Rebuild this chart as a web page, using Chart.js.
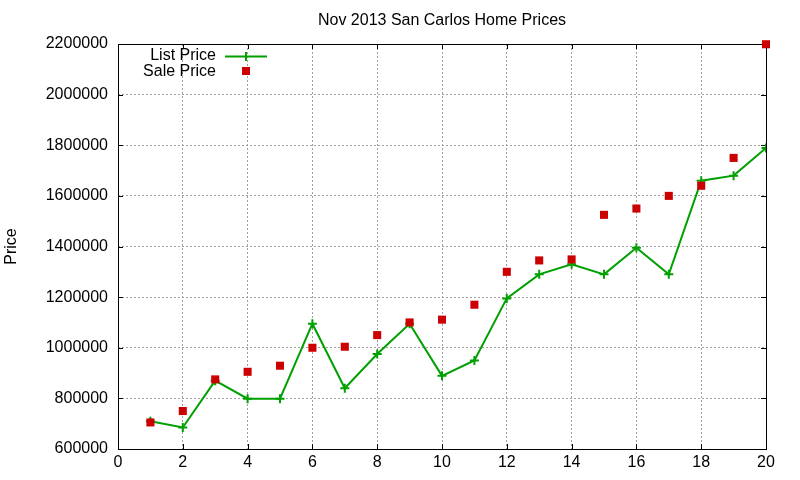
<!DOCTYPE html>
<html>
<head>
<meta charset="utf-8">
<title>Nov 2013 San Carlos Home Prices</title>
<script src="https://cdn.jsdelivr.net/npm/chart.js@4/dist/chart.umd.min.js"></script>
<style>
  html, body { margin: 0; padding: 0; background: #fff; }
  #wrap { width: 800px; height: 480px; }
</style>
</head>
<body>
<div id="wrap"><canvas id="priceChart" width="800" height="480"></canvas></div>
<script>
// data
const homes = [1, 2, 3, 4, 5, 6, 7, 8, 9, 10, 11, 12, 13, 14, 15, 16, 17, 18, 19, 20];
const listPrice = [710000, 685000, 870000, 799000, 799000, 1095000, 840000, 975000, 1095000, 889000,
  950000, 1195000, 1290000, 1330000, 1290000, 1395000, 1290000, 1660000, 1680000, 1789000];
const salePrice = [705000, 750000, 875000, 905000, 929000, 1000000, 1004000, 1050000, 1100000, 1111000,
  1170000, 1300000, 1345000, 1349000, 1525000, 1550000, 1600000, 1640000, 1750000, 2199000];
const xTicks = [0, 2, 4, 6, 8, 10, 12, 14, 16, 18, 20];
const yTicks = [600000, 800000, 1000000, 1200000, 1400000, 1600000, 1800000, 2000000, 2200000];

const chartTitle = "Nov 2013 San Carlos Home Prices";
const FONT = '"Liberation Sans", Arial, sans-serif';

// gnuplot-ish frame, inward ticks, title and key
const gnuplotFrame = {
  id: "gnuplotFrame",
  beforeDatasetsDraw(chart) {
    const ctx = chart.ctx;
    const a = chart.chartArea;
    const xs = chart.scales.x;
    const ys = chart.scales.y;
    ctx.save();
    ctx.strokeStyle = "#000";
    ctx.lineWidth = 1;
    ctx.strokeRect(Math.round(a.left) + 0.5, Math.round(a.top) + 0.5,
      Math.round(a.right - a.left), Math.round(a.bottom - a.top));
    ctx.beginPath();
    xTicks.forEach(function (v) {
      const px = Math.round(xs.getPixelForValue(v)) + 0.5;
      ctx.moveTo(px, a.bottom); ctx.lineTo(px, a.bottom - 5);
      ctx.moveTo(px, a.top); ctx.lineTo(px, a.top + 5);
    });
    yTicks.forEach(function (v) {
      const py = Math.round(ys.getPixelForValue(v)) + 0.5;
      ctx.moveTo(a.left, py); ctx.lineTo(a.left + 5, py);
      ctx.moveTo(a.right, py); ctx.lineTo(a.right - 5, py);
    });
    ctx.stroke();
    ctx.restore();
  },
  afterDraw(chart) {
    const ctx = chart.ctx;
    const a = chart.chartArea;
    const ds = chart.data.datasets;
    ctx.save();
    ctx.fillStyle = "#000";
    ctx.font = "16px " + FONT;
    ctx.textAlign = "center";
    ctx.textBaseline = "middle";
    ctx.fillText(chartTitle, (a.left + a.right) / 2, 21);

    // key
    ctx.textAlign = "right";
    ctx.fillText(ds[0].label, 216, 56);
    ctx.fillText(ds[1].label, 216, 72);
    ctx.strokeStyle = ds[0].borderColor;
    ctx.lineWidth = 2;
    ctx.beginPath();
    ctx.moveTo(225, 56.5); ctx.lineTo(267, 56.5);
    ctx.moveTo(246, 52); ctx.lineTo(246, 61);
    ctx.stroke();
    ctx.fillStyle = ds[1].backgroundColor;
    ctx.fillRect(242, 67, 8, 8);
    ctx.restore();
  }
};

const ctx = document.getElementById("priceChart").getContext("2d");
const priceChart = new Chart(ctx, {
  type: "scatter",
  data: {
    datasets: [
      {
        label: "List Price",
        data: homes.map(function (h, i) { return { x: h, y: listPrice[i] }; }),
        showLine: true,
        borderColor: "#00a000",
        backgroundColor: "#00a000",
        borderWidth: 2,
        pointStyle: "cross",
        pointRadius: 4.5,
        pointBorderWidth: 2,
        pointHoverRadius: 4.5,
        tension: 0,
        order: 2,
      },
      {
        label: "Sale Price",
        data: homes.map(function (h, i) { return { x: h, y: salePrice[i] }; }),
        showLine: false,
        borderColor: "#cc0000",
        backgroundColor: "#cc0000",
        pointStyle: "rect",
        pointRadius: 5.7,
        pointBorderWidth: 0,
        pointHoverRadius: 5.7,
        clip: false,
        order: 1,
      },
    ],
  },
  options: {
    responsive: false,
    devicePixelRatio: 1,
    animation: false,
    events: [],
    layout: {
      padding: { left: 0, top: 44, right: 34, bottom: 0 },
    },
    plugins: {
      legend: { display: false },
      title: { display: false },
      tooltip: { enabled: false },
    },
    scales: {
      x: {
        type: "linear",
        min: 0,
        max: 20,
        afterFit: function (scale) { scale.height = 31; },
        afterBuildTicks: function (scale) {
          scale.ticks = xTicks.map(function (v) { return { value: v }; });
        },
        ticks: {
          color: "#000",
          font: { family: FONT, size: 16 },
          padding: 4,
          maxRotation: 0,
          callback: function (v) { return String(v); },
        },
        grid: {
          color: "#a0a0a0",
          lineWidth: 1,
          drawTicks: false,
        },
        border: { display: false, dash: [2, 2] },
      },
      y: {
        type: "linear",
        min: 600000,
        max: 2200000,
        afterFit: function (scale) { scale.width = 118; },
        afterBuildTicks: function (scale) {
          scale.ticks = yTicks.map(function (v) { return { value: v }; });
        },
        ticks: {
          color: "#000",
          font: { family: FONT, size: 16 },
          padding: 10,
          callback: function (v) { return String(v); },
        },
        grid: {
          color: "#a0a0a0",
          lineWidth: 1,
          drawTicks: false,
        },
        border: { display: false, dash: [2, 2] },
        title: {
          display: true,
          text: "Price",
          color: "#000",
          font: { family: FONT, size: 16 },
          padding: { top: 2, bottom: 0 },
        },
      },
    },
  },
  plugins: [gnuplotFrame],
});
</script>
</body>
</html>
